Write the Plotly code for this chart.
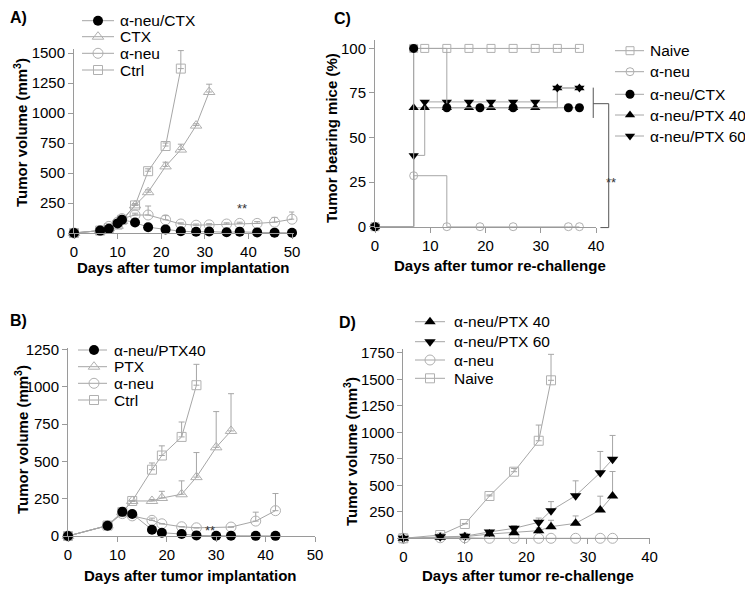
import plotly.graph_objects as go

W, H = 753, 589
OFF = 8  # page body offset of the figure inside the browser window
FONT = "Arial, 'Liberation Sans', sans-serif"
LINE_GREY = "#a6a6a6"
MARK_GREY = "#b0b0b0"
AXIS_GREY = "#9a9a9a"

# ---------------- data ----------------
# Panel A
days_a = [0, 6, 8, 10, 11, 14, 17, 21, 24.5, 28, 31, 35, 38, 42, 46, 50]
a_neu_ctx_a = [0, 20, 35, 80, 110, 88, 48, 30, 15, 10, 12, 6, 10, 5, 3, 2]
ctx_a = [0, 20, 40, 60, 100, 230, 340, 555, 695, 895, 1175]
ctx_a_err = [0, 0, 0, 0, 0, 15, 20, 35, 45, 15, 65]
a_neu_a = [0, 20, 55, 90, 120, 150, 150, 110, 75, 65, 68, 75, 80, 80, 90, 115]
a_neu_a_err = [0, 0, 0, 0, 0, 15, 75, 35, 10, 10, 10, 10, 10, 15, 40, 60]
ctrl_a = [0, 20, 40, 70, 110, 230, 515, 725, 1370]
ctrl_a_err = [0, 0, 0, 0, 0, 10, 20, 25, 150]

# Panel B
days_b = [0, 8, 11, 13, 17, 19, 23, 26, 30, 33, 38, 42]
a_neu_ptx40_b = [0, 69, 162, 148, 42, 22, 13, 4, 2, 2, 1, 1]
ptx_b = [0, 70, 160, 235, 235, 255, 280, 395, 595, 705]
ptx_b_err = [0, 0, 0, 0, 10, 45, 90, 165, 240, 250]
a_neu_b = [0, 70, 150, 135, 105, 82, 62, 55, None, 60, 100, 170]
a_neu_b_err = [0, 0, 0, 0, 15, 0, 0, 0, 0, 0, 60, 115]
ctrl_b = [0, 70, 160, 235, 445, 540, 665, 1012]
ctrl_b_err = [0, 0, 0, 0, 45, 65, 100, 140]

# Panel C (tumor bearing mice, %)
days_c_long = [0, 7, 9, 13, 17, 21, 25, 29, 33, 37]
days_c_short = [0, 7, 13, 19, 25, 35, 37]
naive_c = [0, 100, 100, 100, 100, 100, 100, 100, 100, 100]
a_neu_c = [0, 28.6, 0, 0, 0, 0, 0]
a_neu_ctx_c = [0, 100, 66.7, 66.7, 66.7, 66.7, 66.7]
ptx40_c = [0, 66.7, 66.7, 66.7, 66.7, 66.7, 66.7, 66.7, 77.8, 77.8]
ptx60_c = [0, 40, 70, 70, 70, 70, 70, 70, 77.8, 77.8]

# Panel D
days_d = [0, 6, 10, 14, 18, 22, 24, 28, 32, 34]
ptx40_d = [0, 10, 15, 40, 53, 72, 110, 141, 267, 400]
ptx40_d_err = [0, 0, 0, 10, 20, 25, 60, 70, 130, 230]
ptx60_d = [0, 15, 20, 60, 94, 151, 261, 402, 619, 745]
ptx60_d_err = [0, 0, 5, 15, 25, 40, 85, 140, 200, 225]
a_neu_d = [0, 5, 5, 0, 0, 0, 0, 0, 0, 0]
naive_d = [0, 31, 135, 399, 628, 920, 1490]
naive_d_err = [0, 0, 5, 10, 30, 148, 245]

# tick values
ticks_x_ab = [0, 10, 20, 30, 40, 50]
ticks_x_cd = [0, 10, 20, 30, 40]
ticks_y_a = [0, 250, 500, 750, 1000, 1250, 1500]
ticks_y_b = [0, 250, 500, 750, 1000, 1250]
ticks_y_c = [0, 25, 50, 75, 100]
ticks_y_d = [0, 250, 500, 750, 1000, 1250, 1500, 1750]

# ---------------- layout geometry (window pixels) ----------------
PANELS = {
    "A": dict(px=(74, 294.2), py=(233, 49.4), xr=[0, 50.5], yr=[0, 1530]),
    "B": dict(px=(68, 315), py=(536, 347.5), xr=[0, 50], yr=[0, 1265]),
    "C": dict(px=(375, 596), py=(226.7, 39.5), xr=[0, 40], yr=[0, 105]),
    "D": dict(px=(403.3, 649.5), py=(538.3, 348.5), xr=[0, 40], yr=[0, 1790]),
}


def fx(p):
    return (p - OFF) / W


def fy(p):
    return 1 - (p - OFF) / H


def dom_x(p):
    return [fx(p["px"][0]), fx(p["px"][1])]


def dom_y(p):
    return [fy(p["py"][0]), fy(p["py"][1])]


def to_paper(p, xd, yd):
    tx = (xd - p["xr"][0]) / (p["xr"][1] - p["xr"][0])
    ty = (yd - p["yr"][0]) / (p["yr"][1] - p["yr"][0])
    px = p["px"][0] + tx * (p["px"][1] - p["px"][0])
    py = p["py"][0] + ty * (p["py"][1] - p["py"][0])
    return fx(px), fy(py)


def axis(domain, rng, tickvals, anchor):
    return dict(domain=domain, range=rng, tickvals=tickvals, anchor=anchor,
                showline=True, linecolor=AXIS_GREY, linewidth=1,
                ticks="outside", ticklen=5, tickcolor=AXIS_GREY, tickwidth=1,
                showgrid=False, zeroline=False, fixedrange=True, automargin=False,
                tickfont=dict(family=FONT, size=15, color="black"))


# marker styles
def m_black(symbol, size=10):
    return dict(symbol=symbol, color="black", size=size, line=dict(width=0))


def m_open(symbol, size=9):
    return dict(symbol=symbol, color=MARK_GREY, size=size,
                line=dict(width=1, color=MARK_GREY))


S_BC = m_black("circle", 10)
S_BTU = m_black("triangle-up", 10)
S_BTD = m_black("triangle-down", 10)
S_OC = m_open("circle-open", 10)
S_OT = m_open("triangle-up-open", 10)
S_OS = m_open("square-open", 9)

fig = go.Figure()


def add(x, y, marker, xa, ya, err=None, shape="linear", gaps=False):
    n = len(y)
    kw = {}
    if err is not None:
        kw["error_y"] = dict(type="data", symmetric=False, array=err,
                             arrayminus=[0] * n, color=LINE_GREY,
                             thickness=1, width=3)
    fig.add_trace(go.Scatter(x=x[:n], y=y, mode="lines+markers",
                             line=dict(color=LINE_GREY, width=1, shape=shape),
                             marker=marker, xaxis=xa, yaxis=ya,
                             cliponaxis=False, showlegend=False,
                             connectgaps=gaps, hoverinfo="skip", **kw))


# Panel A
add(days_a, ctrl_a, S_OS, "x", "y", ctrl_a_err)
add(days_a, ctx_a, S_OT, "x", "y", ctx_a_err)
add(days_a, a_neu_a, S_OC, "x", "y", a_neu_a_err)
add(days_a, a_neu_ctx_a, S_BC, "x", "y")

# Panel B
add(days_b, ctrl_b, S_OS, "x2", "y2", ctrl_b_err)
add(days_b, ptx_b, S_OT, "x2", "y2", ptx_b_err)
add(days_b, a_neu_b, S_OC, "x2", "y2", a_neu_b_err, gaps=True)
add(days_b, a_neu_ptx40_b, S_BC, "x2", "y2")

# Panel C
add(days_c_long, naive_c, m_open("square-open", 8), "x3", "y3", shape="hv")
add(days_c_short, a_neu_c, m_open("circle-open", 8), "x3", "y3", shape="hv")
add(days_c_long, ptx40_c, m_black("triangle-up", 9), "x3", "y3", shape="hv")
add(days_c_long, ptx60_c, m_black("triangle-down", 9), "x3", "y3", shape="hv")
add(days_c_short, a_neu_ctx_c, m_black("circle", 9), "x3", "y3", shape="hv")

# Panel D
add(days_d, naive_d, S_OS, "x4", "y4", naive_d_err)
add(days_d, a_neu_d, S_OC, "x4", "y4")
add(days_d, ptx40_d, S_BTU, "x4", "y4", ptx40_d_err)
add(days_d, ptx60_d, S_BTD, "x4", "y4", ptx60_d_err)

# ---------------- manual legends (pixel overlay) ----------------
LEGENDS = [
    dict(rows=[20.7, 36.7, 53.3, 70], lx=(82, 114), mx=98, tx=118,
         items=[("α-neu/CTX", S_BC), ("CTX", S_OT), ("α-neu", S_OC), ("Ctrl", S_OS)]),
    dict(rows=[350, 366.7, 383.3, 400], lx=(78, 107), mx=94, tx=111.7,
         items=[("α-neu/PTX40", S_BC), ("PTX", S_OT), ("α-neu", S_OC), ("Ctrl", S_OS)]),
    dict(rows=[50.7, 71.7, 94.3, 115, 136], lx=(615, 644), mx=630, tx=648,
         items=[("Naive", m_open("square-open", 8)), ("α-neu", m_open("circle-open", 8)),
                ("α-neu/CTX", m_black("circle", 9)), ("α-neu/PTX 40", m_black("triangle-up", 9)),
                ("α-neu/PTX 60", m_black("triangle-down", 9))]),
    dict(rows=[321.7, 341.7, 360, 378.3], lx=(415, 445), mx=430, tx=451.7,
         items=[("α-neu/PTX 40", S_BTU), ("α-neu/PTX 60", S_BTD),
                ("α-neu", S_OC), ("Naive", S_OS)]),
]

annotations = []
for lg in LEGENDS:
    for ry, (label, mk) in zip(lg["rows"], lg["items"]):
        fig.add_trace(go.Scatter(x=list(lg["lx"]), y=[ry, ry], mode="lines",
                                 line=dict(color=LINE_GREY, width=1),
                                 xaxis="x5", yaxis="y5", showlegend=False,
                                 hoverinfo="skip"))
        fig.add_trace(go.Scatter(x=[lg["mx"]], y=[ry], mode="markers", marker=mk,
                                 xaxis="x5", yaxis="y5", showlegend=False,
                                 hoverinfo="skip"))
        annotations.append(dict(text=label, x=fx(lg["tx"]), y=fy(ry),
                                xref="paper", yref="paper", xanchor="left",
                                yanchor="middle", showarrow=False,
                                font=dict(family=FONT, size=15.5, color="black")))

# axis titles and panel letters (window pixel positions)
TITLE_FONT = dict(family=FONT, size=15, color="black")
titles = [
    ("<b>Days after tumor implantation</b>", 183, 268, 0),
    ("<b>Tumor volume (mm<sup>3</sup>)</b>", 20, 133, -90),
    ("<b>Days after tumor implantation</b>", 190, 575, 0),
    ("<b>Tumor volume (mm<sup>3</sup>)</b>", 21, 440, -90),
    ("<b>Days after tumor re-challenge</b>", 500, 265, 0),
    ("<b>Tumor bearing mice (%)</b>", 332, 138, -90),
    ("<b>Days after tumor re-challenge</b>", 528, 575, 0),
    ("<b>Tumor volume (mm<sup>3</sup>)</b>", 350, 452, -90),
]
for text, x, y, ang in titles:
    annotations.append(dict(text=text, x=fx(x), y=fy(y), xref="paper",
                            yref="paper", xanchor="center", yanchor="middle",
                            textangle=ang, showarrow=False, font=TITLE_FONT))

letters = [("A)", 8, 17), ("B)", 8, 320), ("C)", 332, 18), ("D)", 337, 322)]
for text, x, y in letters:
    annotations.append(dict(text=f"<b>{text}</b>", x=fx(x), y=fy(y),
                            xref="paper", yref="paper", xanchor="left",
                            yanchor="middle", showarrow=False,
                            font=dict(family=FONT, size=16, color="black")))

# significance marks
STAR_FONT = dict(family=FONT, size=13, color="#333333")
annotations.append(dict(text="**", x=38.5, y=205, xref="x", yref="y",
                        showarrow=False, font=STAR_FONT))
annotations.append(dict(text="**", x=28.7, y=40, xref="x2", yref="y2",
                        showarrow=False, font=STAR_FONT))
sx, sy = to_paper(PANELS["C"], 44, 30)
annotations.append(dict(text="**", x=sx, y=sy, xref="paper", yref="paper",
                        showarrow=False, font=STAR_FONT))

# bracket in panel C
pC = PANELS["C"]
shapes = []
BR = dict(color="#555555", width=1)
x0, y0 = to_paper(pC, 39.5, 61)
x1, y1 = to_paper(pC, 39.5, 78)
shapes.append(dict(type="line", xref="paper", yref="paper", x0=x0, y0=y0, x1=x1, y1=y1, line=BR))
xa, ya = to_paper(pC, 39.5, 69)
xb, yb = to_paper(pC, 42.3, 69)
shapes.append(dict(type="line", xref="paper", yref="paper", x0=xa, y0=ya, x1=xb, y1=yb, line=BR))
xc, yc = to_paper(pC, 42.3, -0.5)
shapes.append(dict(type="line", xref="paper", yref="paper", x0=xb, y0=yb, x1=xc, y1=yc, line=BR))
xd_, yd_ = to_paper(pC, 40.8, -0.5)
shapes.append(dict(type="line", xref="paper", yref="paper", x0=xc, y0=yc, x1=xd_, y1=yd_, line=BR))

pA, pB, pD = PANELS["A"], PANELS["B"], PANELS["D"]
fig.update_layout(
    template="none",
    width=W, height=H, margin=dict(l=0, r=0, t=0, b=0, pad=0, autoexpand=False),
    paper_bgcolor="white", plot_bgcolor="rgba(0,0,0,0)",
    showlegend=False,
    xaxis=axis(dom_x(pA), pA["xr"], ticks_x_ab, "y"),
    yaxis=axis(dom_y(pA), pA["yr"], ticks_y_a, "x"),
    xaxis2=axis(dom_x(pB), pB["xr"], ticks_x_ab, "y2"),
    yaxis2=axis(dom_y(pB), pB["yr"], ticks_y_b, "x2"),
    xaxis3=axis(dom_x(pC), pC["xr"], ticks_x_cd, "y3"),
    yaxis3=axis(dom_y(pC), pC["yr"], ticks_y_c, "x3"),
    xaxis4=axis(dom_x(pD), pD["xr"], ticks_x_cd, "y4"),
    yaxis4=axis(dom_y(pD), pD["yr"], ticks_y_d, "x4"),
    xaxis5=dict(domain=[0, 1], range=[OFF, W + OFF], visible=False, anchor="y5",
                fixedrange=True, automargin=False),
    yaxis5=dict(domain=[0, 1], range=[H + OFF, OFF], visible=False, anchor="x5",
                fixedrange=True, automargin=False),
    annotations=annotations,
    shapes=shapes,
)

fig.write_html("out.html")
